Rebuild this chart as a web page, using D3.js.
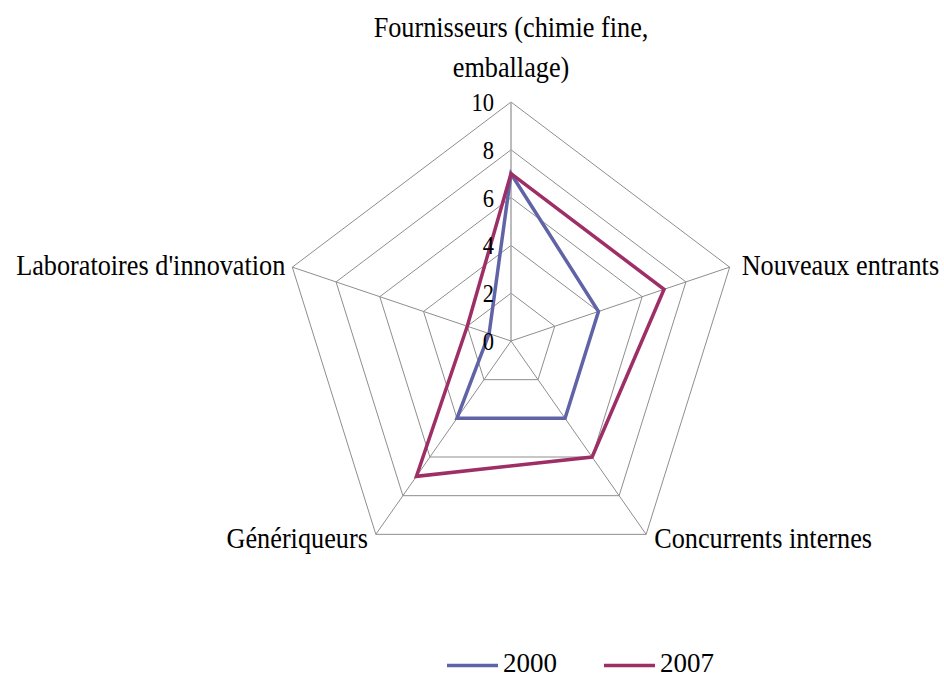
<!DOCTYPE html>
<html>
<head>
<meta charset="utf-8">
<script src="https://cdn.jsdelivr.net/npm/d3@7"></script>
</head>
<body style="margin:0;background:#fff">
<div class="holderRadar"></div>
<script>
var categories = ["Fournisseurs (chimie fine,|emballage)", "Nouveaux entrants", "Concurrents internes", "Génériqueurs", "Laboratoires d'innovation"]
var v2000 = [7, 4, 4, 4, 1]
var v2007 = [7, 7, 6, 7, 2]
var tickValues = [0, 2, 4, 6, 8, 10]
var seriesNames = ["2000", "2007"]

var width = 944,
height = 678,
cx = 511,
cy = 341,
sx = 0.962,
font = "'Liberation Serif', 'DejaVu Serif', serif"

var colors = ['#6064a6', '#9e2f66']

var chart = d3.select('.holderRadar')
  .append('svg')
  .attr('width', width)
  .attr('height', height)
  .attr('font-family', font)

var rScale = d3.scaleLinear()
  .domain([0, 10])
  .range([0, 239])

var angle = d3.scaleLinear()
  .domain([0, categories.length])
  .range([0, 2 * Math.PI])

function pt(i, v) {
  var a = angle(i)
  return [cx + sx * rScale(v) * Math.sin(a), cy - rScale(v) * Math.cos(a)]
}

// grid rings
var ring = d3.line().curve(d3.curveLinearClosed)
chart.selectAll('.ring')
  .data(tickValues.slice(1))
  .enter()
  .append('path')
  .attr('class', 'ring')
  .attr('d', function(t) {
    return ring(categories.map(function(c, i) { return pt(i, t) }))
  })
  .attr('fill', 'none')
  .attr('stroke', '#8e8e8e')
  .attr('stroke-width', 1)

// spokes
chart.selectAll('.spoke')
  .data(categories)
  .enter()
  .append('line')
  .attr('x1', cx)
  .attr('y1', cy)
  .attr('x2', function(d, i) { return pt(i, 10)[0] })
  .attr('y2', function(d, i) { return pt(i, 10)[1] })
  .attr('stroke', function(d, i) { return i == 0 ? '#a6a6a6' : '#8e8e8e' })
  .attr('stroke-width', function(d, i) { return i == 0 ? 1.5 : 1 })

// series
var series = [v2000, v2007]
chart.selectAll('.serie')
  .data(series)
  .enter()
  .append('path')
  .attr('class', 'serie')
  .attr('d', function(s) {
    return ring(s.map(function(v, i) { return pt(i, v) }))
  })
  .attr('fill', 'none')
  .attr('stroke', function(d, i) { return colors[i] })
  .attr('stroke-width', 3.5)
  .attr('stroke-linejoin', 'miter')

// tick labels
chart.selectAll('.tick')
  .data(tickValues)
  .enter()
  .append('text')
  .attr('transform', function(t) {
    return 'translate(494,' + (cy - rScale(t) + 9) + ') scale(0.9,1)'
  })
  .style('font-family', font)
  .style('text-anchor', 'end')
  .style('font-size', '25px')
  .text(function(t) { return t })

// category labels
var labelPos = [
  { dx: 0, dy: 0, anchor: 'middle' },
  { dx: 12, dy: 8, anchor: 'start' },
  { dx: 8, dy: 14, anchor: 'start' },
  { dx: -8, dy: 14, anchor: 'end' },
  { dx: -7, dy: 8, anchor: 'end' }
]
categories.forEach(function(c, i) {
  var p = pt(i, 10)
  var lines = c.split('|')
  lines.forEach(function(l, j) {
    var x = p[0] + labelPos[i].dx
    var y = i == 0 ? 37 + j * 40 : p[1] + labelPos[i].dy
    chart.append('text')
      .attr('transform', 'translate(' + x + ',' + y + ') scale(0.875,1)')
      .style('font-family', font)
      .style('text-anchor', labelPos[i].anchor)
      .style('font-size', '30px')
      .text(l)
  })
})

// legend
var legX = [447, 604]
seriesNames.forEach(function(n, i) {
  chart.append('line')
    .attr('x1', legX[i])
    .attr('x2', legX[i] + 51)
    .attr('y1', 665.5)
    .attr('y2', 665.5)
    .attr('stroke', colors[i])
    .attr('stroke-width', 3.5)
  chart.append('text')
    .attr('transform', 'translate(' + (legX[i] + 56) + ',672)')
    .style('font-family', font)
    .style('font-size', '27px')
    .text(n)
})
</script>
</body>
</html>
